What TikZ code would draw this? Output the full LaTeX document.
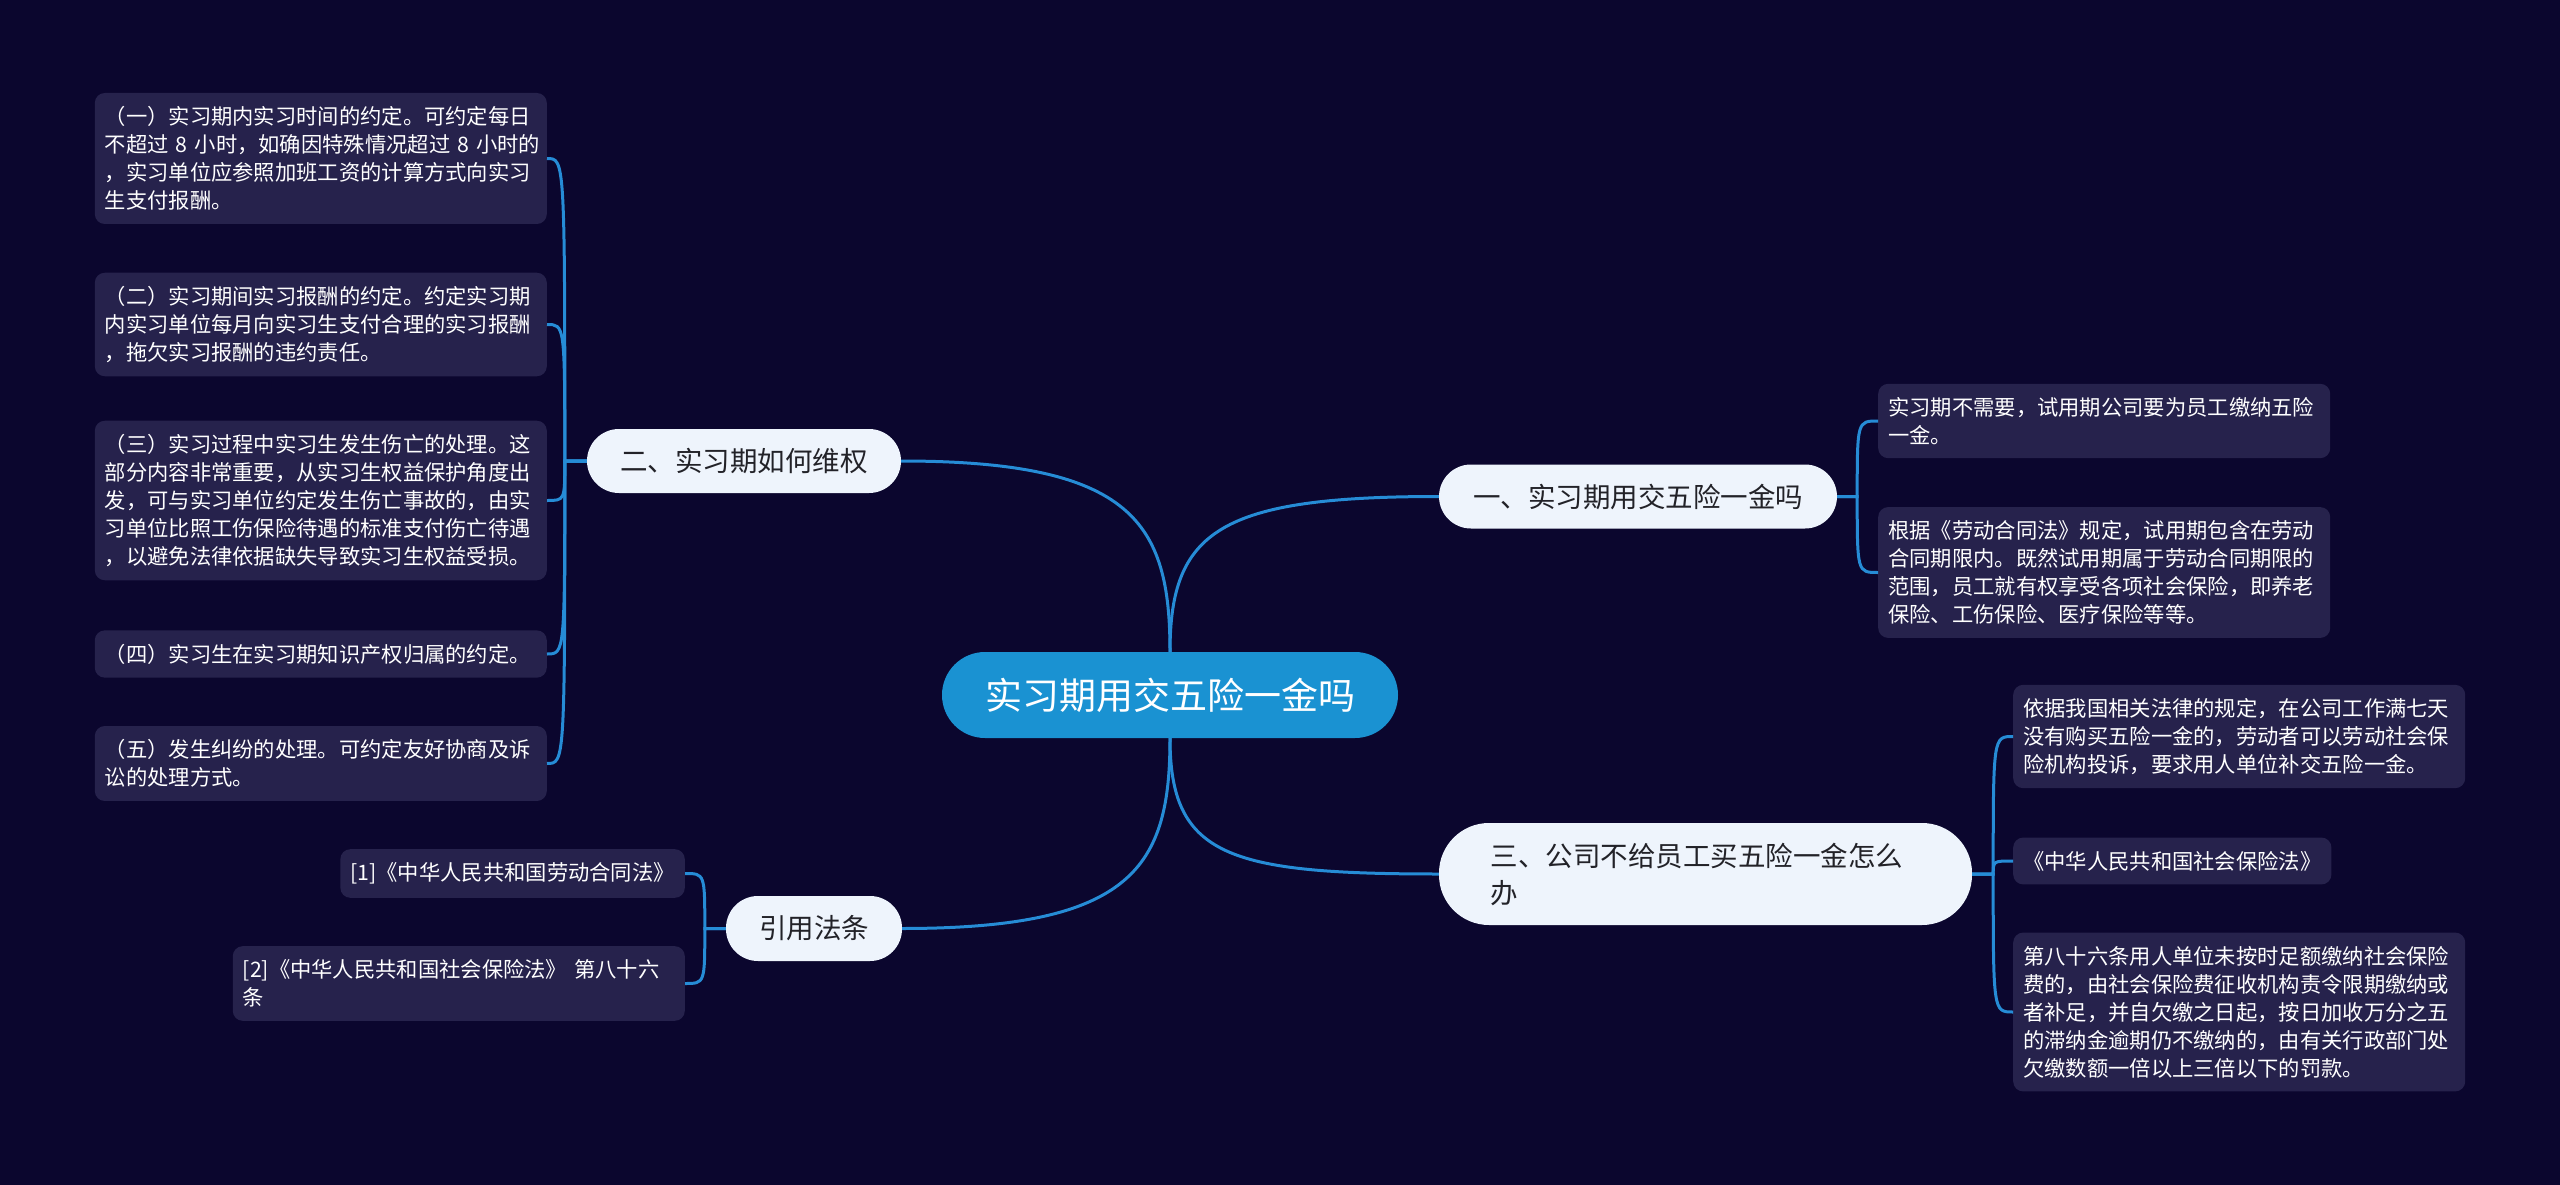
\documentclass[tikz,border=0pt]{standalone}
\usepackage{fontspec}
\setmainfont{Noto Sans CJK SC}
\usepackage{tikz}
\usetikzlibrary{positioning}

\definecolor{bgnavy}{RGB}{11,6,46}
\definecolor{mainblue}{RGB}{26,146,210}
\definecolor{topicfill}{RGB}{238,244,252}
\definecolor{topictext}{RGB}{34,34,40}
\definecolor{detailfill}{RGB}{38,34,76}
\definecolor{linkblue}{RGB}{38,140,214}

\tikzset{
    mainidea/.style={rectangle, fill=mainblue, text=white, rounded corners=43pt,
        minimum width=456pt, minimum height=86pt, font=\fontsize{37}{44}\selectfont},
    topic/.style={rectangle, fill=topicfill, text=topictext, rounded corners=32pt,
        minimum height=64pt, font=\fontsize{27.5}{37}\selectfont},
    detail/.style={rectangle, fill=detailfill, text=white, rounded corners=10pt,
        align=left, inner xsep=10pt, inner ysep=13.5pt, font=\fontsize{21.3}{28}\selectfont},
    widedetail/.style={detail, text width=432pt},
    link/.style={draw=linkblue, line width=3pt},
    curl/.style={out looseness=1, in looseness=1.8},
}

\begin{document}
\begin{tikzpicture}[x=1pt, y=-1pt]

    % Background
    \fill[bgnavy] (0,0) rectangle (2560,1185);

    % Main idea
    \node[mainidea] (main) at (1170,695) {实习期用交五险一金吗};

    % Topics
    \node[topic, minimum width=314pt] (rights) at (744,461) {二、实习期如何维权};
    \node[topic, minimum width=398pt] (insurance) at (1638,496.5) {一、实习期用交五险一金吗};
    \node[topic, minimum width=533pt, minimum height=102pt, rounded corners=50pt,
        align=left, text width=430pt] (nopay) at (1705.5,874) {三、公司不给员工买五险一金怎么\\办};
    \node[topic, minimum width=176pt, minimum height=65pt] (laws) at (814,928.5) {引用法条};

    % Details of rights
    \node[widedetail, anchor=east] (rights1) at (547,158.5) {（一）实习期内实习时间的约定。可约定每日\\\mbox{不超过 8 小时，如确因特殊情况超过 8 小时的}\\，实习单位应参照加班工资的计算方式向实习\\生支付报酬。};
    \node[widedetail, anchor=east] (rights2) at (547,324.5) {（二）实习期间实习报酬的约定。约定实习期\\内实习单位每月向实习生支付合理的实习报酬\\，拖欠实习报酬的违约责任。};
    \node[widedetail, anchor=east] (rights3) at (547,500.5) {（三）实习过程中实习生发生伤亡的处理。这\\部分内容非常重要，从实习生权益保护角度出\\发，可与实习单位约定发生伤亡事故的，由实\\习单位比照工伤保险待遇的标准支付伤亡待遇\\，以避免法律依据缺失导致实习生权益受损。};
    \node[widedetail, anchor=east] (rights4) at (547,654) {（四）实习生在实习期知识产权归属的约定。};
    \node[widedetail, anchor=east] (rights5) at (547,763.5) {（五）发生纠纷的处理。可约定友好协商及诉\\讼的处理方式。};

    % Details of laws
    \node[detail, anchor=east] (laws1) at (685,873.5) {[1]《中华人民共和国劳动合同法》};
    \node[widedetail, anchor=east] (laws2) at (685,983.5) {[2]《中华人民共和国社会保险法》 第八十六\\条};

    % Details of insurance
    \node[widedetail, anchor=west] (insurance1) at (1878,421) {实习期不需要，试用期公司要为员工缴纳五险\\一金。};
    \node[widedetail, anchor=west] (insurance2) at (1878,572.5) {根据《劳动合同法》规定，试用期包含在劳动\\合同期限内。既然试用期属于劳动合同期限的\\范围，员工就有权享受各项社会保险，即养老\\保险、工伤保险、医疗保险等等。};

    % Details of nopay
    \node[widedetail, anchor=west] (nopay1) at (2013,736.5) {依据我国相关法律的规定，在公司工作满七天\\没有购买五险一金的，劳动者可以劳动社会保\\险机构投诉，要求用人单位补交五险一金。};
    \node[detail, anchor=west] (nopay2) at (2013,861) {《中华人民共和国社会保险法》};
    \node[widedetail, anchor=west] (nopay3) at (2013,1012) {第八十六条用人单位未按时足额缴纳社会保险\\费的，由社会保险费征收机构责令限期缴纳或\\者补足，并自欠缴之日起，按日加收万分之五\\的滞纳金逾期仍不缴纳的，由有关行政部门处\\欠缴数额一倍以上三倍以下的罚款。};

    % Main links
    \draw[link] (main.north) to[out=90, in=180, curl] (insurance.west);
    \draw[link] (main.north) to[out=90, in=0, curl] (rights.east);
    \draw[link] (main.south) to[out=-90, in=180, curl] (nopay.west);
    \draw[link] (main.south) to[out=-90, in=0, curl] (laws.east);

    % Forks
    \path (rights.west) ++(-22,0) coordinate (rightsfork);
    \path (laws.west) ++(-21,0) coordinate (lawsfork);
    \path (insurance.east) ++(20,0) coordinate (insurancefork);
    \path (nopay.east) ++(21,0) coordinate (nopayfork);

    % Detail links
    \draw[link] (rights.west) -- (rightsfork) .. controls (rightsfork |- rights1.east) .. (rights1.east);
    \draw[link] (rights.west) -- (rightsfork) .. controls (rightsfork |- rights2.east) .. (rights2.east);
    \draw[link] (rights.west) -- (rightsfork) .. controls (rightsfork |- rights3.east) .. (rights3.east);
    \draw[link] (rights.west) -- (rightsfork) .. controls (rightsfork |- rights4.east) .. (rights4.east);
    \draw[link] (rights.west) -- (rightsfork) .. controls (rightsfork |- rights5.east) .. (rights5.east);

    \draw[link] (laws.west) -- (lawsfork) .. controls (lawsfork |- laws1.east) .. (laws1.east);
    \draw[link] (laws.west) -- (lawsfork) .. controls (lawsfork |- laws2.east) .. (laws2.east);

    \draw[link] (insurance.east) -- (insurancefork) .. controls (insurancefork |- insurance1.west) .. (insurance1.west);
    \draw[link] (insurance.east) -- (insurancefork) .. controls (insurancefork |- insurance2.west) .. (insurance2.west);

    \draw[link] (nopay.east) -- (nopayfork) .. controls (nopayfork |- nopay1.west) .. (nopay1.west);
    \draw[link] (nopay.east) -- (nopayfork) .. controls (nopayfork |- nopay2.west) .. (nopay2.west);
    \draw[link] (nopay.east) -- (nopayfork) .. controls (nopayfork |- nopay3.west) .. (nopay3.west);

\end{tikzpicture}
\end{document}
